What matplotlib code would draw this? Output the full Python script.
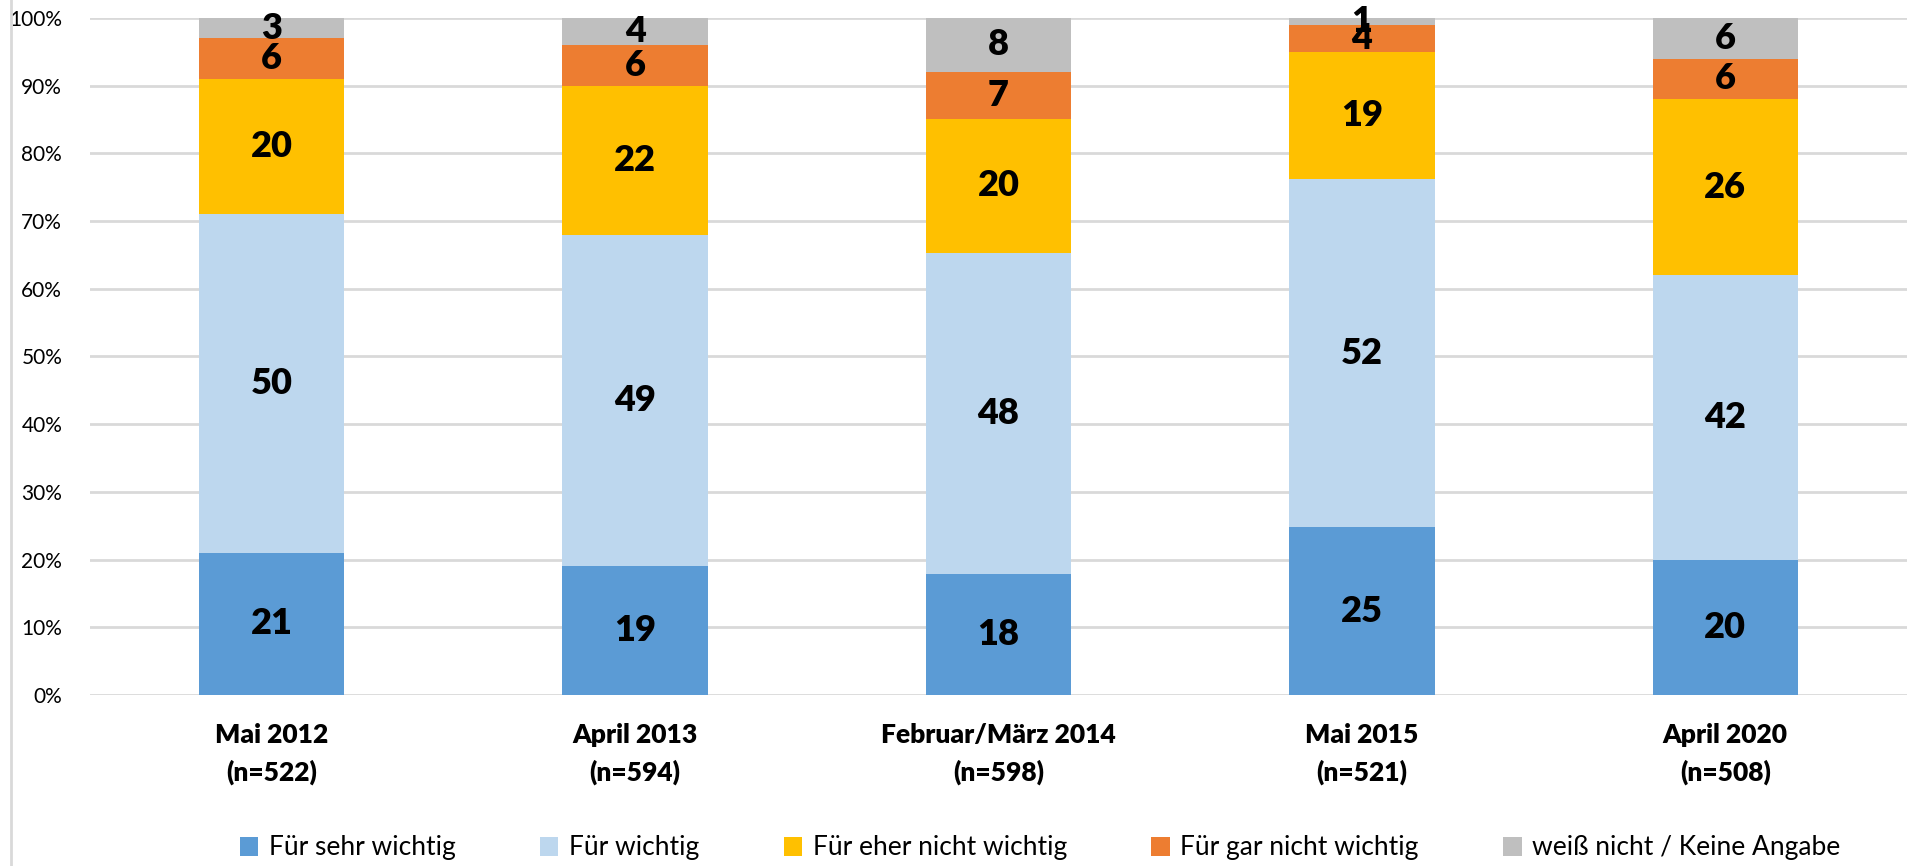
import numpy as np
import matplotlib
matplotlib.use("Agg")
import matplotlib.pyplot as plt
from matplotlib.patches import Patch
from matplotlib.lines import Line2D

plt.rcParams['font.family'] = ['Lato', 'DejaVu Sans']

# categories and answer shares (percent, as labelled)
cats = ["Mai 2012\n(n=522)", "April 2013\n(n=594)", "Februar/März 2014\n(n=598)",
        "Mai 2015\n(n=521)", "April 2020\n(n=508)"]
series_names = ["Für sehr wichtig", "Für wichtig", "Für eher nicht wichtig",
                "Für gar nicht wichtig", "weiß nicht / Keine Angabe"]
sehr_wichtig = [21, 19, 18, 25, 20]
wichtig = [50, 49, 48, 52, 42]
eher_nicht = [20, 22, 20, 19, 26]
gar_nicht = [6, 6, 7, 4, 6]
weiss_nicht = [3, 4, 8, 1, 6]
colors = ["#5B9BD5", "#BDD7EE", "#FFC000", "#ED7D31", "#BFBFBF"]

vals = np.array([sehr_wichtig, wichtig, eher_nicht, gar_nicht, weiss_nicht], dtype=float)
shares = vals / vals.sum(axis=0) * 100  # 100% stacked like the original

fig = plt.figure(figsize=(19.23, 8.66), dpi=100)
ax = fig.add_axes([90/1923, 1-695/866, 1817/1923, 677/866])

x = np.arange(len(cats))
bottom = np.zeros(len(cats))
for i in range(len(series_names)):
    ax.bar(x, shares[i], 0.4, bottom=bottom, color=colors[i], zorder=3,
           label=series_names[i])
    for j in range(len(cats)):
        ax.text(x[j], bottom[j] + shares[i][j]/2, "%d" % vals[i][j],
                ha='center', va='center', fontsize=26, fontweight='heavy',
                color='black', zorder=4)
    bottom += shares[i]

ax.set_xlim(-0.5, len(cats) - 0.5)
ax.set_ylim(0, 100)
ax.set_yticks(np.arange(0, 101, 10))
ax.set_yticklabels(["%d%%" % t for t in range(0, 101, 10)], fontsize=15)
ax.set_xticks(x)
ax.set_xticklabels(cats, fontsize=19, fontweight='heavy', linespacing=1.6)
ax.tick_params(axis='both', length=0)
ax.tick_params(axis='y', pad=20)
ax.tick_params(axis='x', pad=20)
ax.yaxis.grid(True, color='#D9D9D9', linewidth=2, zorder=0)
for s in ax.spines.values():
    s.set_visible(False)

handles = [Patch(facecolor=c, edgecolor='none') for c in colors]
fig.legend(handles, series_names, loc='center', bbox_to_anchor=(1040/1923, 1-848/866),
           ncol=5, frameon=False, fontsize=19, handlelength=0.7, handleheight=0.7,
           handletextpad=0.4, columnspacing=3.2)

fig.add_artist(Line2D([11/1923, 11/1923], [0, 1], color='#D9D9D9', linewidth=2))

fig.savefig("out.png", dpi=100)
